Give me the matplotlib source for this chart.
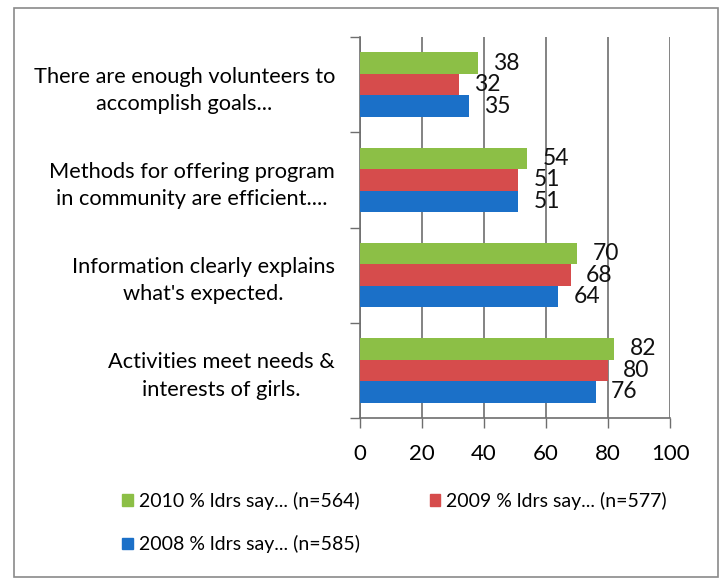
import matplotlib

matplotlib.use("Agg")
import matplotlib.pyplot as plt
import numpy as np
from matplotlib.patches import Patch, Rectangle

# bottom-to-top order, as Excel draws it
categories = [
    "Activities meet needs &\ninterests of girls.",
    "Information clearly explains\nwhat's expected.",
    "Methods for offering program\nin community are efficient....",
    "There are enough volunteers to\naccomplish goals...",
]
pct_2008 = [76, 64, 51, 35]
pct_2009 = [80, 68, 51, 32]
pct_2010 = [82, 70, 54, 38]

series_labels = [
    "2010 % ldrs say... (n=564)",
    "2009 % ldrs say... (n=577)",
    "2008 % ldrs say... (n=585)",
]
x_ticks = [0, 20, 40, 60, 80, 100]

GREEN = "#8cbf46"
RED = "#d64c4c"
BLUE = "#1b70c8"
GRID = "#6e6e6e"

plt.rcParams["font.family"] = ["Lato", "DejaVu Sans"]

fig = plt.figure(figsize=(7.21, 5.78), dpi=100)
ax = fig.add_axes([0.4993, 0.2768, 0.4300, 0.6592])

y = np.arange(len(categories))
h = 0.225
bars_b = ax.barh(y - h, pct_2008, h, color=BLUE, zorder=3)
bars_r = ax.barh(y, pct_2009, h, color=RED, zorder=3)
bars_g = ax.barh(y + h, pct_2010, h, color=GREEN, zorder=3)

for bars in (bars_g, bars_r, bars_b):
    ax.bar_label(bars, padding=11, fontsize=16.5, color="#111111")

ax.set_xlim(0, 100)
ax.set_ylim(-0.5, len(categories) - 0.5)
ax.set_xticks(x_ticks)
ax.tick_params(axis="x", length=7, width=1, color=GRID, labelsize=16, pad=12)
ax.xaxis.grid(True, color=GRID, linewidth=1.2, zorder=0)

# boundaries as major ticks, category names as minor ticks
ax.set_yticks(np.arange(-0.5, len(categories), 1.0))
ax.set_yticklabels([])
ax.tick_params(axis="y", which="major", length=7, width=1, color=GRID)
ax.set_yticks(y, minor=True)
ax.set_yticklabels(categories, minor=True, fontsize=15.7)
ax.tick_params(axis="y", which="minor", length=0, pad=18)
for t in ax.get_yticklabels(minor=True):
    t.set_multialignment("center")
    t.set_linespacing(1.45)

for s in ("top", "right"):
    ax.spines[s].set_visible(False)
for s in ("left", "bottom"):
    ax.spines[s].set_color(GRID)
    ax.spines[s].set_linewidth(1.2)

handles = [
    Patch(color=GREEN, label=series_labels[0]),
    Patch(color=BLUE, label=series_labels[2]),
    Patch(color=RED, label=series_labels[1]),
]
fig.legend(
    handles=handles,
    ncol=2,
    loc="upper left",
    bbox_to_anchor=(0.145, 0.179),
    frameon=False,
    fontsize=14,
    handlelength=0.55,
    handleheight=0.55,
    handletextpad=0.3,
    columnspacing=3.6,
    labelspacing=1.3,
)

fig.patches.append(
    Rectangle(
        (0.019, 0.002), 0.977, 0.984,
        transform=fig.transFigure, fill=False, edgecolor="#8a8a8a", linewidth=1.2,
    )
)

fig.savefig("out.png", dpi=100)
